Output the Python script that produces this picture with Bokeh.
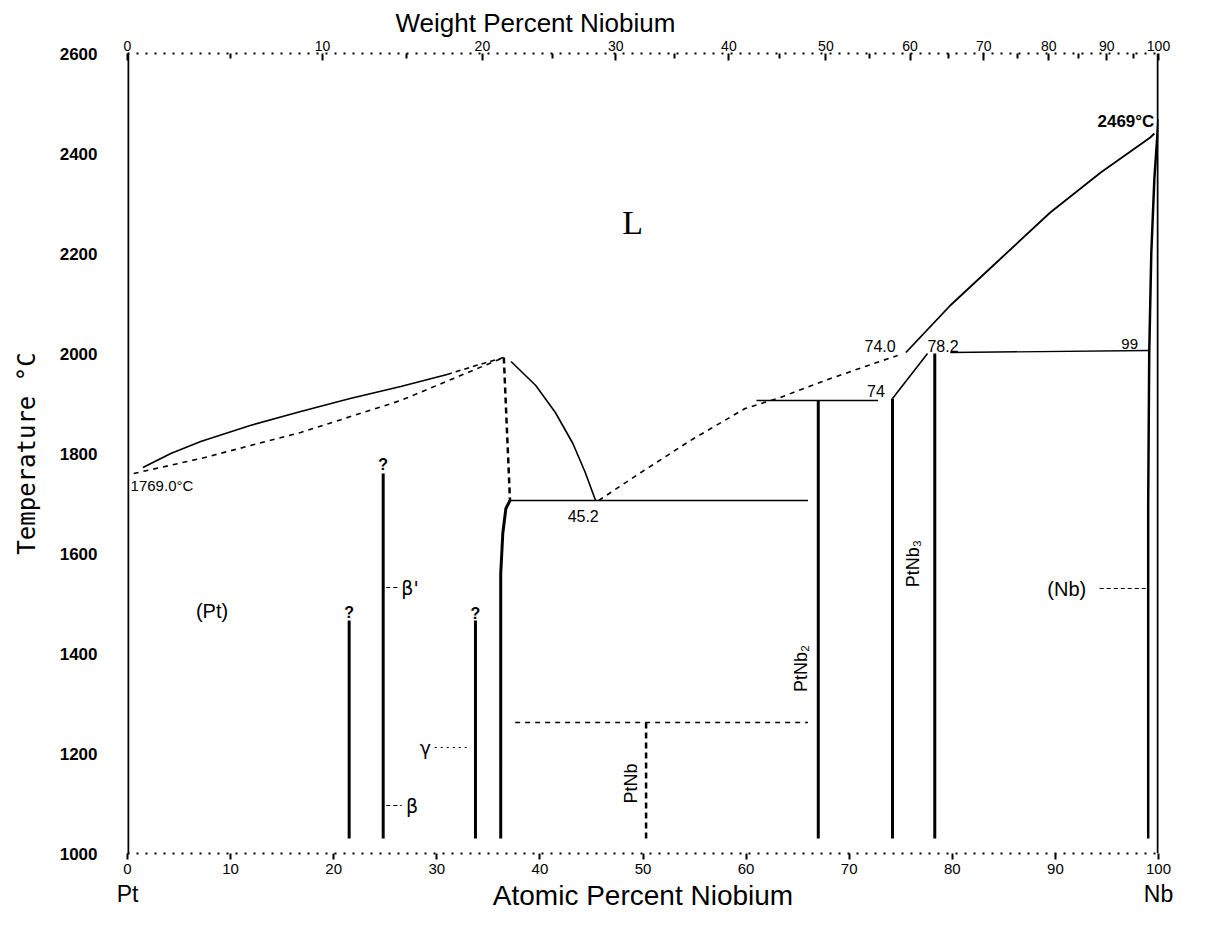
import math
from bokeh.plotting import figure
from bokeh.models import LinearAxis, FixedTicker, Label, Range1d, Title
from bokeh.embed import file_html
from bokeh.resources import INLINE

# ---------------- data (atomic % Nb, temperature in deg C) ----------------
pt_liq_at = [1.5, 4.2, 7.1, 11.9, 16.8, 21.6, 26.5, 31.0]
pt_liq_t = [1772, 1800, 1824, 1856, 1884, 1910, 1934, 1958]
pt_liq_dash_at = [31.0, 33.8, 36.5]
pt_liq_dash_t = [1958, 1976, 1992]
pt_sol_at = [0.6, 7.1, 16.8, 26.5, 36.5]
pt_sol_t = [1760, 1790, 1842, 1906, 1992]
peak_drop_at = [36.5, 37.1]
peak_drop_t = [1992, 1706]
liq_mid_at = [37.2, 39.6, 41.5, 43.2, 44.4, 45.4]
liq_mid_t = [1984, 1936, 1882, 1820, 1762, 1706]
eut_at = [37.1, 66.0]
eut_t = [1706, 1706]
bound36_at = [36.2, 36.2, 36.4, 36.7, 37.1]
bound36_t = [1030, 1560, 1640, 1690, 1706]
liq_dash2_at = [45.7, 49.8, 54.6, 59.9, 63.3, 68.2, 72.1, 74.7]
liq_dash2_t = [1706, 1762, 1826, 1890, 1912, 1950, 1978, 1996]
per1906_at = [61.0, 72.8]
per1906_t = [1906, 1906]
slant_at = [74.2, 77.6]
slant_t = [1910, 2000]
per2002_at = [79.8, 99.0]
per2002_t = [2002, 2006]
nb_liq_at = [75.5, 79.8, 84.7, 89.5, 94.4, 99.2, 99.6]
nb_liq_t = [2002, 2096, 2190, 2282, 2362, 2432, 2440]
nb_sol_at = [99.0, 99.0, 99.1, 99.3, 99.6, 100.0]
nb_sol_t = [1030, 1700, 2000, 2200, 2350, 2469]
ptnb_h_at = [37.6, 66.0]
ptnb_h_t = [1262, 1262]
ptnb_v_at = [50.3, 50.3]
ptnb_v_t = [1262, 1030]
compound_at = [21.5, 24.8, 33.75, 67.0, 74.2, 78.3]
compound_top = [1466, 1760, 1466, 1906, 1910, 2000]
compound_bottom = [1030, 1030, 1030, 1030, 1030, 1030]

at_ticks = list(range(0, 101, 10))
t_ticks = list(range(1000, 2601, 200))
wt_major = list(range(0, 101, 10))
wt_minor = list(range(5, 100, 10))
element_ticks = [0, 100]
element_names = ["Pt", "Nb"]

M_PT, M_NB = 195.08, 92.906


def wt_to_at(w):
    if w >= 100:
        return 100.0
    a = w / M_NB
    b = (100 - w) / M_PT
    return 100.0 * a / (a + b)


FONT = "Liberation Sans"
K = "black"

p = figure(width=1211, height=925, x_range=Range1d(0, 100), y_range=Range1d(1000, 2600),
           output_backend="svg", toolbar_location=None,
           min_border_left=127, min_border_right=53, min_border_top=53, min_border_bottom=72)
p.outline_line_color = None
p.xgrid.visible = False
p.ygrid.visible = False
p.background_fill_color = "white"
p.border_fill_color = "white"

# bottom axis (atomic %)
bx = p.below[0]
bx.ticker = FixedTicker(ticks=at_ticks)
bx.axis_line_dash = "2 7"
bx.axis_line_width = 2
bx.major_tick_in = 0
bx.major_tick_out = 6
bx.major_tick_line_width = 2
bx.minor_tick_line_color = None
bx.major_label_text_font = FONT
bx.major_label_text_font_size = "15px"
bx.major_label_text_color = K
bx.major_label_standoff = 4

# second bottom axis: element names and axis title
ex = LinearAxis(ticker=FixedTicker(ticks=element_ticks),
                major_label_overrides={t: n for t, n in zip(element_ticks, element_names)})
ex.axis_line_color = None
ex.major_tick_line_color = None
ex.minor_tick_line_color = None
ex.major_tick_in = 0
ex.major_tick_out = 0
ex.major_label_standoff = 4
ex.major_label_text_font = FONT
ex.major_label_text_font_size = "23px"
ex.major_label_text_color = K
ex.axis_label = "Atomic Percent Niobium"
ex.axis_label_text_font = FONT
ex.axis_label_text_font_size = "28px"
ex.axis_label_text_font_style = "normal"
ex.axis_label_text_color = K
ex.axis_label_standoff = -30
p.add_layout(ex, "below")

# left axis
ly = p.left[0]
ly.ticker = FixedTicker(ticks=t_ticks)
ly.axis_line_color = None
ly.major_tick_line_color = None
ly.minor_tick_line_color = None
ly.major_label_text_font = FONT
ly.major_label_text_font_size = "17px"
ly.major_label_text_font_style = "bold"
ly.major_label_text_color = K
ly.major_label_standoff = 24
ly.axis_label = "Temperature °C"
ly.axis_label_text_font = "DejaVu Sans Mono"
ly.axis_label_text_font_size = "24px"
ly.axis_label_text_font_style = "normal"
ly.axis_label_text_color = K
ly.axis_label_standoff = 16

# top axis (weight %)
top_pos = [wt_to_at(w) for w in wt_major]
top_minor = [wt_to_at(w) for w in wt_minor]
tx = LinearAxis(ticker=FixedTicker(ticks=top_pos, minor_ticks=top_minor),
                major_label_overrides={wt_to_at(w): str(w) for w in wt_major})
tx.axis_line_dash = "2 7"
tx.axis_line_width = 2
tx.major_tick_in = 7
tx.major_tick_out = 0
tx.major_tick_line_width = 2
tx.minor_tick_in = 5
tx.minor_tick_out = 0
tx.minor_tick_line_width = 2
tx.major_label_text_font = FONT
tx.major_label_text_font_size = "14px"
tx.major_label_text_color = K
tx.major_label_standoff = 3
p.add_layout(tx, "above")
p.add_layout(Title(text="Weight Percent Niobium", align="left", offset=268, standoff=0,
                   text_font=FONT, text_font_size="26px", text_font_style="normal",
                   text_color=K), "above")

# terminal lines
p.line([0, 0], [1000, 2600], line_width=3.5, color=K)
p.line([100, 100], [1000, 2600], line_width=3.5, color=K)
# curves
p.line(pt_liq_at, pt_liq_t, line_width=1.6, color=K)
p.line(pt_liq_dash_at, pt_liq_dash_t, line_width=1.6, color=K, line_dash="5 4")
p.line(pt_sol_at, pt_sol_t, line_width=1.6, color=K, line_dash="5 5")
p.line(peak_drop_at, peak_drop_t, line_width=2.5, color=K, line_dash="6 4")
p.line(liq_mid_at, liq_mid_t, line_width=1.6, color=K)
p.line(eut_at, eut_t, line_width=1.4, color=K)
p.line(bound36_at, bound36_t, line_width=3, color=K)
p.line(liq_dash2_at, liq_dash2_t, line_width=1.6, color=K, line_dash="5 5")
p.line(per1906_at, per1906_t, line_width=1.4, color=K)
p.line(slant_at, slant_t, line_width=1.6, color=K)
p.line(per2002_at, per2002_t, line_width=1.4, color=K)
p.line(nb_liq_at, nb_liq_t, line_width=1.8, color=K)
p.line(nb_sol_at, nb_sol_t, line_width=2.5, color=K)
p.line(ptnb_h_at, ptnb_h_t, line_width=1.6, color=K, line_dash="5 5")
p.line(ptnb_v_at, ptnb_v_t, line_width=2.5, color=K, line_dash="6 4")
p.segment(x0=compound_at, y0=compound_bottom, x1=compound_at, y1=compound_top,
          line_width=3, color=K)


def lab(x, y, text, size, font=FONT, angle=0.0, align="center", baseline="middle", style="normal"):
    p.add_layout(Label(x=x, y=y, text=text, text_font=font, text_font_size=f"{size}px",
                       angle=angle, text_align=align, text_baseline=baseline,
                       text_font_style=style, text_color=K))


lab(49.0, 2262, "L", 34, font="Liberation Serif")
lab(8.2, 1486, "(Pt)", 20)
lab(91.1, 1530, "(Nb)", 20)
p.line([94.3, 98.8], [1530, 1530], line_width=1.2, color=K, line_dash="4 3")
lab(0.3, 1736, "1769.0°C", 15, align="left")
lab(99.6, 2464, "2469°C", 17, align="right", style="bold")
lab(44.2, 1676, "45.2", 16)
lab(73.0, 2016, "74.0", 16)
lab(79.1, 2016, "78.2", 16)
lab(72.6, 1926, "74", 16)
lab(97.2, 2020, "99", 15)
lab(24.8, 1778, "?", 16, style="bold")
lab(21.5, 1482, "?", 16, style="bold")
lab(33.75, 1480, "?", 16, style="bold")
lab(27.4, 1532, "β'", 19, font="DejaVu Sans")
p.line([25.1, 26.4], [1532, 1532], line_width=1.2, color=K, line_dash="4 3")
lab(28.9, 1212, "γ", 19, font="DejaVu Sans")
p.line([29.8, 33.3], [1212, 1212], line_width=1.2, color=K, line_dash="2 4")
lab(27.6, 1096, "β", 19, font="DejaVu Sans")
p.line([25.1, 26.6], [1096, 1096], line_width=1.2, color=K, line_dash="4 3")
lab(65.3, 1370, "PtNb₂", 18, angle=math.pi / 2)
lab(76.2, 1580, "PtNb₃", 18, angle=math.pi / 2)
lab(48.8, 1140, "PtNb", 18, angle=math.pi / 2)

open("out.html", "w").write(file_html(p, INLINE))
